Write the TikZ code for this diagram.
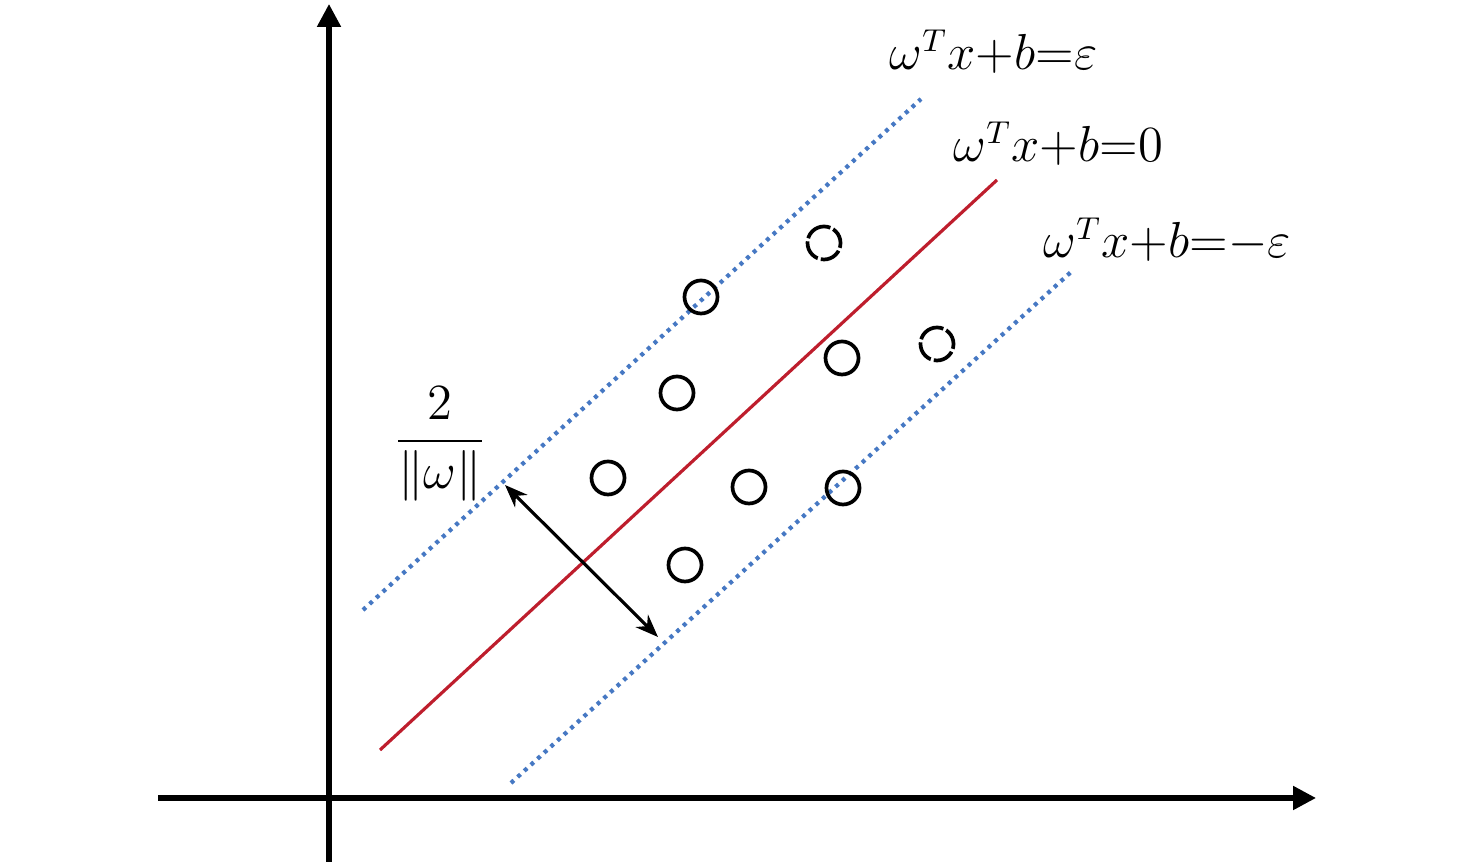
\documentclass[tikz,border=0pt]{standalone}
\usetikzlibrary{arrows.meta}
\definecolor{svmred}{RGB}{190,30,45}
\definecolor{svmblue}{RGB}{70,120,195}
\tikzset{
  axis/.style={line width=1.45pt,-{Triangle[length=6.5pt,width=6.5pt]}},
  hyper/.style={line width=0.9pt,svmred},
  margin/.style={line width=1.2pt,svmblue,dash pattern=on 1.1pt off 1.45pt},
  pt/.style={circle,draw,line width=1.05pt,minimum size=0.33cm,inner sep=0pt},
  ptd/.style={pt,dash pattern=on 6pt off 0.9pt},
  lbl/.style={font=\fontsize{13.3}{16}\selectfont,inner sep=0pt},
  gap/.style={line width=0.9pt,{Stealth[length=6.5pt,width=5pt]}-{Stealth[length=6.5pt,width=5pt]}}
}
\begin{document}
\begin{tikzpicture}[x=0.01cm,y=-0.01cm]
\useasboundingbox (0,0) rectangle (1476,862);
% axes
\coordinate (yb) at (329,862);
\coordinate (yt) at (329,4);
\coordinate (xl) at (158,798);
\coordinate (xr) at (1316,798);
\draw[axis] (yb) -- (yt);
\draw[axis] (xl) -- (xr);
% lines
\coordinate (r1) at (380,750);
\coordinate (r2) at (997,180);
\coordinate (u1) at (363,610);
\coordinate (u2) at (921,99);
\coordinate (l1) at (511,783);
\coordinate (l2) at (1071,272);
\draw[hyper] (r1) -- (r2);
\draw[margin] (u1) -- (u2);
\draw[margin] (l1) -- (l2);
% points
\node[pt] (p1) at (701,297) {};
\node[ptd,rotate=90] (p2) at (824,243) {};
\node[pt] (p3) at (677,393) {};
\node[pt] (p4) at (842,358) {};
\node[ptd,rotate=90] (p5) at (937,344) {};
\node[pt] (p6) at (608,478) {};
\node[pt] (p7) at (749,487) {};
\node[pt] (p8) at (843,488) {};
\node[pt] (p9) at (685,565) {};
% margin arrow
\coordinate (a1) at (505,485);
\coordinate (a2) at (658,637);
\draw[gap] (a1) -- (a2);
% labels
\node[lbl,anchor=base west] (t1) at (889,70) {$\omega^{T}x{+}b{=}\varepsilon$};
\node[lbl,anchor=base west] (t2) at (953,162) {$\omega^{T}x{+}b{=}0$};
\node[lbl,anchor=base west] (t3) at (1043,258) {$\omega^{T}x{+}b{=}{-}\varepsilon$};
\node[lbl,font=\fontsize{15}{17}\selectfont] (frac) at (440,444) {$\displaystyle\frac{2}{\|\omega\|}$};
\end{tikzpicture}
\end{document}
